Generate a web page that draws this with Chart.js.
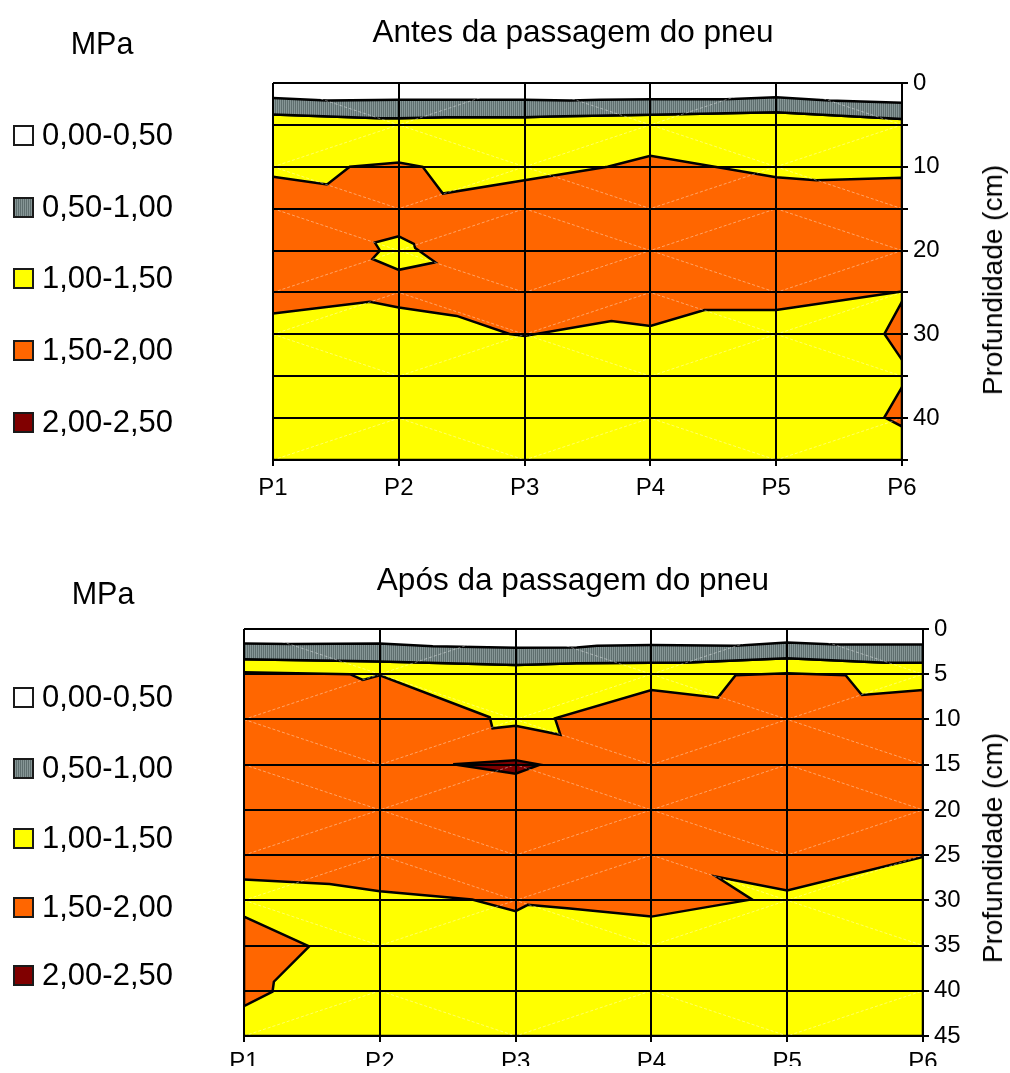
<!DOCTYPE html>
<html><head><meta charset="utf-8">
<script src="https://cdn.jsdelivr.net/npm/chart.js@4.4.0/dist/chart.umd.min.js"></script>
<style>
body{margin:0;background:#fff;width:1010px;height:1073px;position:relative;overflow:hidden;font-family:"Liberation Sans",Arial,sans-serif;color:#000;}
.c{position:absolute;transform:translate(-50%,-50%);white-space:nowrap;}
.t{font-size:31.5px;}
.mpa{font-size:30.5px;}
.yt{font-size:28px;transform:translate(-50%,-50%) rotate(-90deg);}
.row{position:absolute;left:13px;height:30px;display:flex;align-items:center;font-size:31px;white-space:nowrap;}
.sw{width:17px;height:17px;border:2px solid #1a1a1a;margin-right:8px;box-sizing:content-box;}
canvas{position:absolute;left:0;}
</style></head>
<body>
<canvas id="c1" width="1010" height="520" style="top:0px"></canvas>
<canvas id="c2" width="1010" height="533" style="top:540px"></canvas>
<div id="html"></div>
<script>
// ---------- shared labels ----------
const xLabels = ['P1','P2','P3','P4','P5','P6'];
const legendLabels = ['0,00-0,50','0,50-1,00','1,00-1,50','1,50-2,00','2,00-2,50'];
const titles = ['Antes da passagem do pneu','Após da passagem do pneu'];
const unitLabel = 'MPa';
const yTitle = 'Profundidade (cm)';
const yLabels1 = [0,10,20,30,40];
const yLabels2 = [0,5,10,15,20,25,30,35,40,45];

// ---------- "Antes" boundaries: [position (P index), depth cm] ----------
const antesWhiteGray = [[1,1.8],[1.43,2.1],[2,2.0],[3,2.0],[3.36,2.1],[3.6,2.0],[4,1.95],[4.6,1.95],[5,1.7],[5.42,2.1],[6,2.35]];
const antesGrayYellow = [[1,3.75],[1.85,4.2],[2,4.2],[2.37,4.1],[3,4.1],[3.2,4.0],[4,3.8],[5,3.5],[6,4.3]];
const antesOrangeTop = [[1,11.2],[1.43,12.1],[1.61,10.0],[2,9.5],[2.19,10.0],[2.35,13.2],[3,11.6],[3.66,10.0],[4,8.7],[5,11.25],[5.32,11.6],[6,11.3]];
const antesOrangeBottom = [[1,27.5],[1.77,26.1],[2,26.8],[2.46,27.8],[2.88,29.95],[3,30.2],[3.69,28.4],[4,29.0],[4.43,27.1],[5,27.1],[6,24.9]];
const antesYellowIsland = [[2,18.3],[2.12,19.2],[2.13,19.7],[2.29,21.4],[2,22.3],[1.79,21.0],[1.85,20.0],[1.81,19.05],[2,18.3]];
const antesOrangeWedge1 = [[6,26.1],[5.86,29.95],[6,33.05],[6,26.1]];
const antesOrangeWedge2 = [[6,36.3],[5.86,39.9],[6,41.0],[6,36.3]];

// ---------- "Após" boundaries ----------
const aposWhiteGray = [[1,1.6],[1.34,1.66],[2,1.6],[2.39,1.9],[3,2.06],[3.45,2.05],[3.6,1.84],[4,1.77],[4.62,1.84],[5,1.5],[5.36,1.7],[6,1.7]];
const aposGrayYellow = [[1,3.35],[1.68,3.5],[2,3.6],[2.79,3.9],[3,3.98],[3.2,3.9],[3.45,3.8],[4,3.72],[4.23,3.72],[5,3.24],[5.73,3.72],[6,3.72]];
const aposOrangeTop = [[1,4.79],[1.78,5.0],[1.875,5.64],[2,5.12],[2.81,9.76],[2.83,10.98],[3,10.7],[3.33,11.7],[3.29,9.87],[4,6.74],[4.49,7.59],[4.62,5.12],[5,4.9],[5.43,5.12],[5.55,7.3],[6,6.74]];
const aposOrangeBottom = [[1,27.7],[1.63,28.2],[2,29.0],[2.68,29.9],[3,31.2],[3.09,30.5],[3.4,30.9],[4,31.8],[4.74,29.9],[4.48,27.4],[5,28.9],[6,25.2]];
const aposRedDiamond = [[2.54,14.95],[3,14.5],[3.18,15.0],[3,16.0],[2.54,14.95]];
const aposOrangeWedge = [[1,31.8],[1.48,35.1],[1.22,39.0],[1.21,40.1],[1,41.7],[1,31.8]];

// ---------- faint triangulation lines ----------
const faint1 = [[1,0],[2,5],[3,0],[4,5],[5,0],[6,5]];
const faint2 = [[1,10],[2,5],[3,10],[4,5],[5,10],[6,5]];
const faint3 = [[1,10],[2,15],[3,10],[4,15],[5,10],[6,15]];
const faint4 = [[1,15],[2,20],[3,15],[4,20],[5,15],[6,20]];
const faint5 = [[1,25],[2,20],[3,25],[4,20],[5,25],[6,20]];
const faint6 = [[1,30],[2,25],[3,30],[4,25],[5,30],[6,25]];
const faint7 = [[1,30],[2,35],[3,30],[4,35],[5,30],[6,35]];
const faint8 = [[1,45],[2,40],[3,45],[4,40],[5,45],[6,40]];
const faintLines = [faint1,faint2,faint3,faint4,faint5,faint6,faint7,faint8];

// ---------- colours ----------
const YELLOW = '#FFFF00', ORANGE = '#FF6600', DARKRED = '#800000';
const pc = document.createElement('canvas'); pc.width = 2; pc.height = 1;
const pg = pc.getContext('2d');
pg.fillStyle = '#869696'; pg.fillRect(0,0,1,1);
pg.fillStyle = '#5e6e6e'; pg.fillRect(1,0,1,1);
const GRAYPAT = pg.createPattern(pc,'repeat');

const FONT = '"Liberation Sans", Arial, sans-serif';
const pts = a => a.map(p => ({x:p[0], y:p[1]}));
const poly = (a, color, order) => ({data: pts(a), fill:'shape', backgroundColor: color, borderColor:'#000', borderWidth:2.5, pointRadius:0, tension:0, order});

function build(id, layers, yLabelSet, opt) {
  const datasets = layers.slice();
  faintLines.forEach(f => datasets.push({data: pts(f), fill:false, borderColor:'rgba(255,255,255,0.4)', borderWidth:1, borderDash:[3,2], pointRadius:0, tension:0, order:1}));
  return new Chart(document.getElementById(id), {
    type: 'line',
    data: {datasets},
    options: {
      responsive:false, animation:false, devicePixelRatio:1,
      layout:{padding:{left:opt.left, top:opt.top, right:0, bottom:opt.bottom}},
      plugins:{legend:{display:false}, tooltip:{enabled:false}, title:{display:false}},
      scales:{
        x:{type:'linear', min:1, max:6,
          ticks:{stepSize:1, autoSkip:false, maxRotation:0, color:'#000', padding:opt.xpad, font:{size:24, family:FONT},
            callback:v => xLabels[Math.round(v)-1] || ''},
          grid:{color:'#000', lineWidth:2, tickLength:6, z:1},
          border:{color:'#000', width:2, z:1},
          afterFit:s => { s.height = opt.xh; }
        },
        y:{type:'linear', position:'right', reverse:true, min:0, max:45,
          ticks:{stepSize:5, autoSkip:false, color:'#000', padding:5, font:{size:24, family:FONT},
            callback:v => yLabelSet.includes(v) ? String(v) : ''},
          grid:{color:'#000', lineWidth:2, tickLength:6, z:1},
          border:{color:'#000', width:2, z:1},
          afterFit:s => { s.width = opt.yw; }
        }
      }
    }
  });
}

build('c1', [
  poly(antesWhiteGray.concat(antesGrayYellow.slice().reverse()), GRAYPAT, 9),
  poly(antesGrayYellow.concat([[6,45],[1,45]]), YELLOW, 10),
  poly(antesOrangeTop.concat(antesOrangeBottom.slice().reverse()), ORANGE, 8),
  poly(antesYellowIsland, YELLOW, 7),
  poly(antesOrangeWedge1, ORANGE, 7),
  poly(antesOrangeWedge2, ORANGE, 7)
], yLabels1, {left:273, top:83, bottom:10, xh:50, yw:108, xpad:8});

build('c2', [
  poly(aposWhiteGray.concat(aposGrayYellow.slice().reverse()), GRAYPAT, 9),
  poly(aposGrayYellow.concat([[6,45],[1,45]]), YELLOW, 10),
  poly(aposOrangeTop.concat(aposOrangeBottom.slice().reverse()), ORANGE, 8),
  poly(aposRedDiamond, DARKRED, 6),
  poly(aposOrangeWedge, ORANGE, 7)
], yLabels2, {left:244, top:89, bottom:7, xh:30, yw:87, xpad:6});

// ---------- text (titles, legend, axis title) ----------
const swatch = ['#ffffff','repeating-linear-gradient(90deg,#869696 0 1px,#5e6e6e 1px 2px)',YELLOW,ORANGE,DARKRED];
const host = document.getElementById('html');
function addText(cls, txt, x, y) { const d = document.createElement('div'); d.className = cls; d.textContent = txt; d.style.left = x+'px'; d.style.top = y+'px'; host.appendChild(d); }
function addLegend(ys) {
  ys.forEach((y,i) => {
    const r = document.createElement('div'); r.className = 'row'; r.style.top = (y-15)+'px';
    const s = document.createElement('div'); s.className = 'sw'; s.style.background = swatch[i];
    const t = document.createElement('span'); t.textContent = legendLabels[i];
    r.appendChild(s); r.appendChild(t); host.appendChild(r);
  });
}
addText('c t', titles[0], 573, 31);
addText('c t', titles[1], 573, 579);
addText('c mpa', unitLabel, 102, 43);
addText('c mpa', unitLabel, 103, 593);
addText('c yt', yTitle, 993, 280);
addText('c yt', yTitle, 993, 848);
addLegend([135,207,278,350,422]);
addLegend([697,768,838,907,975]);
</script>
</body></html>
